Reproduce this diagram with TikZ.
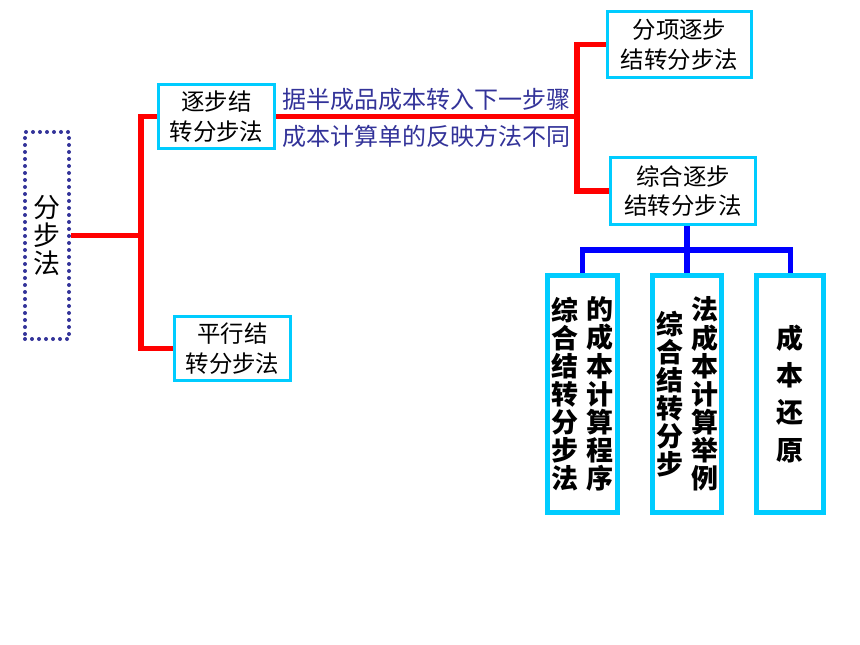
\documentclass[tikz,border=0pt]{standalone}
\usepackage{fontspec}
\setmainfont{Noto Sans CJK SC}
\usepackage{xcolor}
\usepackage{tikz}
\usetikzlibrary{positioning}
\definecolor{boxcyan}{HTML}{00CCFF}
\definecolor{navy}{HTML}{333399}
\tikzstyle{root}=[rectangle, draw=navy, line width=0.12cm, line cap=round, dash pattern=on 0pt off 0.21cm,
        minimum width=1.32cm, minimum height=6.21cm, align=center, font=\fontsize{23}{24}\selectfont]
\tikzstyle{method}=[rectangle, draw=boxcyan, line width=0.09cm, fill=white,
        align=center, font=\fontsize{20}{25}\selectfont]
\tikzstyle{detail}=[rectangle, draw=boxcyan, line width=0.15cm, fill=white, align=center,
        minimum width=2.01cm, minimum height=7.11cm, font=\fontsize{23}{24}\selectfont\bfseries]
\tikzstyle{redline}=[draw=red, line width=0.165cm]
\tikzstyle{blueline}=[draw=blue, line width=0.165cm]
\tikzstyle{note}=[text=navy, font=\fontsize{20.5}{25}\selectfont]
\newcommand{\vcol}[1]{\parbox[c]{1em}{\centering #1}}

\begin{document}
\begin{tikzpicture}[x=0.03cm, y=-0.03cm, node distance=0.9cm]
        \useasboundingbox (0,0) rectangle (860,645);
        \node (fbf) [root] at (47,235.5) {分\\步\\法};
        \node (zb) [method, minimum width=3.48cm, minimum height=1.92cm] at (216.5,116.5)
        {逐步结\\转分步法};
        \node (px) [method, minimum width=3.48cm, minimum height=1.92cm] at (232.5,348.5)
        {平行结\\转分步法};
        \node (fx) [method, minimum width=4.32cm, minimum height=1.98cm] at (679.5,44.5)
        {分项逐步\\结转分步法};
        \node (zh) [method, minimum width=4.35cm, minimum height=2.01cm] at (683,191)
        {综合逐步\\结转分步法};
        \node (b2) [detail, below=1.41cm of zh, xshift=0.12cm]
        {\vcol{综\\合\\结\\转\\分\\步}\hspace{0.24cm}\vcol{法\\成\\本\\计\\算\\举\\例}};
        \node (b1) [detail, left=of b2]
        {\vcol{综\\合\\结\\转\\分\\步\\法}\hspace{0.24cm}\vcol{的\\成\\本\\计\\算\\程\\序}};
        \node (b3) [detail, right=of b2, font=\fontsize{23}{31.6}\selectfont\bfseries]
        {成\\本\\还\\原};
        \node (t1) [note] at (426.5,99) {据半成品成本转入下一步骤};
        \node (t2) [note] at (426.5,136) {成本计算单的反映方法不同};
        % red tree
        \coordinate (j1) at (141,235.5);
        \coordinate (j2) at (577,116.5);
        \draw[redline] (fbf.east) -- (j1);
        \draw[redline] (zb.west) -| (j1) |- (px.west);
        \draw[redline] (zb.east) -- (j2);
        \draw[redline] (fx.west) -| (j2) |- (zh.west);
        % blue tree
        \coordinate (j3) at (b2.north |- 0,250);
        \draw[blueline] (zh.south -| b2.north) -- (b2.north);
        \draw[blueline] (b1.north) |- (j3) -| (b3.north);
\end{tikzpicture}
\end{document}
